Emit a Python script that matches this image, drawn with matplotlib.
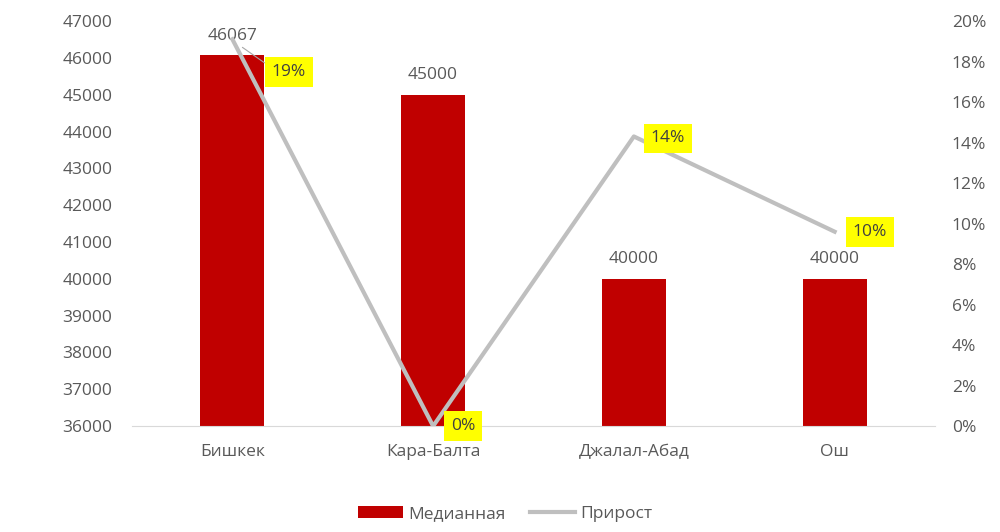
import matplotlib.pyplot as plt
from matplotlib.ticker import FuncFormatter

plt.rcParams['font.family'] = ['Open Sans', 'DejaVu Sans']

cities = ['Бишкек', 'Кара-Балта', 'Джалал-Абад', 'Ош']
median = [46067, 45000, 40000, 40000]
growth = [19.1, 0.0, 14.3, 9.6]
growth_labels = ['19%', '0%', '14%', '10%']

BAR_COLOR = '#C00000'
LINE_COLOR = '#BFBFBF'
TEXT_COLOR = '#595959'
FS = 12.5

fig = plt.figure(figsize=(10, 5.32), dpi=100)
ax = fig.add_axes([0.132, 0.199, 0.803, 0.7615])
ax2 = ax.twinx()

x = list(range(len(cities)))
bars = ax.bar(x, median, width=0.32, color=BAR_COLOR, label='Медианная', zorder=2)
ax.set_ylim(36000, 47000)
ax.set_xlim(-0.5, len(cities) - 0.5)
ax.set_yticks(range(36000, 47001, 1000))
ax.set_xticks(x)
ax.set_xticklabels(cities)

for xi, v in zip(x, median):
    ax.text(xi, v + 310, str(v), ha='center', va='bottom', fontsize=FS, color=TEXT_COLOR, zorder=5)

line, = ax2.plot(x, growth, color=LINE_COLOR, linewidth=3.0, label='Прирост', zorder=3)
ax2.set_ylim(0, 20)
ax2.set_yticks(range(0, 21, 2))
ax2.yaxis.set_major_formatter(FuncFormatter(lambda v, p: f'{int(v)}%'))

# подписи прироста (жёлтые)
offsets = [(0.28, -1.6), (0.15, 0.0), (0.17, -0.1), (0.175, 0.0)]
box = dict(boxstyle='square,pad=0.4', facecolor='#FFFF00', edgecolor='none')
for i, (xi, g, lab) in enumerate(zip(x, growth, growth_labels)):
    dx, dy = offsets[i]
    if i == 0:
        ax2.annotate(lab, xy=(xi + 0.05, g - 0.4), xytext=(xi + dx, g + dy),
                     ha='center', va='center', fontsize=FS, color='#404040', bbox=box,
                     arrowprops=dict(arrowstyle='-', color='#A6A6A6', lw=0.8,
                                     connectionstyle='angle,angleA=0,angleB=-35,rad=0',
                                     shrinkA=0, shrinkB=0), zorder=6)
    else:
        ax2.text(xi + dx, g + dy, lab, ha='center', va='center', fontsize=FS,
                 color='#404040', bbox=box, zorder=6)

for a in (ax, ax2):
    for s in a.spines.values():
        s.set_visible(False)
    a.tick_params(length=0, colors=TEXT_COLOR, labelsize=FS)
ax.spines['bottom'].set_visible(True)
ax.spines['bottom'].set_color('#D9D9D9')
ax.tick_params(axis='y', pad=14)
ax.tick_params(axis='x', pad=13)
ax2.tick_params(axis='y', pad=12)

fig.legend([bars, line], ['Медианная', 'Прирост'], loc='lower center',
           bbox_to_anchor=(0.505, -0.01), ncol=2, frameon=False, fontsize=FS,
           labelcolor=TEXT_COLOR, handlelength=2.6, columnspacing=1.4, handletextpad=0.3)

fig.savefig('out.png', dpi=100, facecolor='white')
